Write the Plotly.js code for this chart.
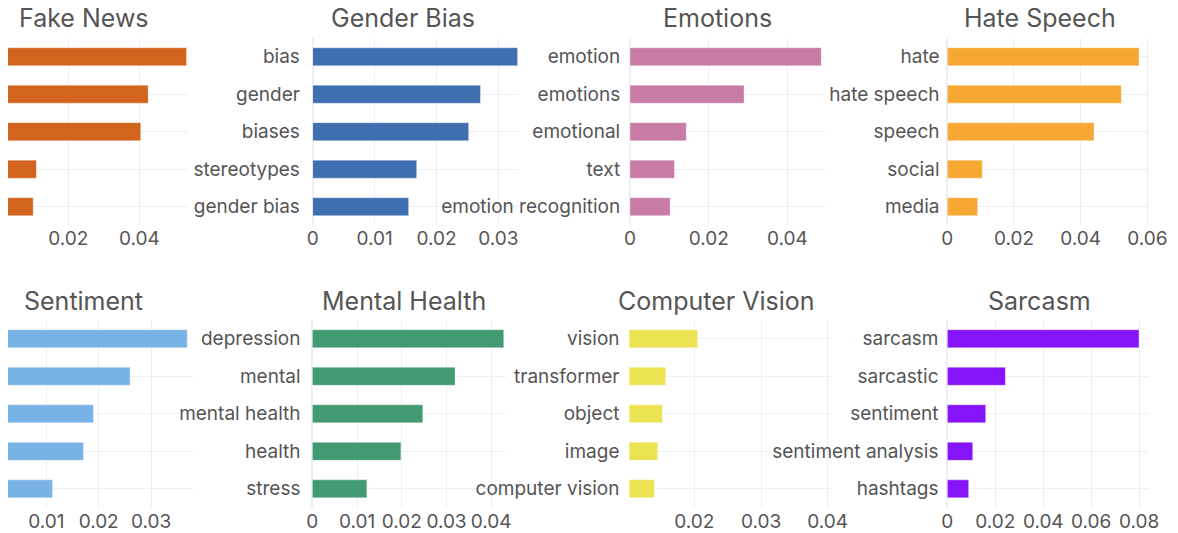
<!DOCTYPE html>
<html>
<head>
<meta charset="utf-8">
<script src="https://cdn.plot.ly/plotly-3.0.1.min.js"></script>
<style>html,body{margin:0;padding:0;background:#fff;}#chart{width:1178px;height:533px;}</style>
</head>
<body>
<div id="chart"></div>
<script>
// ---- data (top to bottom within each panel) ----
const titles = ["Fake News", "Gender Bias", "Emotions", "Hate Speech",
                "Sentiment", "Mental Health", "Computer Vision", "Sarcasm"];

const fakeNewsWords = ["fake", "news", "fake news", "detection", "misinformation"]; // not visible in the reference
const fakeNewsScores = [0.0533, 0.0425, 0.0404, 0.0110, 0.0101];

const genderBiasWords = ["bias", "gender", "biases", "stereotypes", "gender bias"];
const genderBiasScores = [0.0331, 0.0271, 0.0252, 0.0168, 0.0155];

const emotionsWords = ["emotion", "emotions", "emotional", "text", "emotion recognition"];
const emotionsScores = [0.0486, 0.0290, 0.0143, 0.0113, 0.0102];

const hateSpeechWords = ["hate", "hate speech", "speech", "social", "media"];
const hateSpeechScores = [0.0575, 0.0522, 0.0440, 0.0105, 0.0091];

const sentimentWords = ["sentiment", "analysis", "sentiment analysis", "reviews", "opinion"]; // not visible in the reference
const sentimentScores = [0.0369, 0.0260, 0.0190, 0.0171, 0.0112];

const mentalHealthWords = ["depression", "mental", "mental health", "health", "stress"];
const mentalHealthScores = [0.0428, 0.0319, 0.0247, 0.0198, 0.0122];

const computerVisionWords = ["vision", "transformer", "object", "image", "computer vision"];
const computerVisionScores = [0.0205, 0.0157, 0.0152, 0.0145, 0.0140];

const sarcasmWords = ["sarcasm", "sarcastic", "sentiment", "sentiment analysis", "hashtags"];
const sarcasmScores = [0.0799, 0.0242, 0.0160, 0.0106, 0.0089];

const panelWords = [fakeNewsWords, genderBiasWords, emotionsWords, hateSpeechWords,
                    sentimentWords, mentalHealthWords, computerVisionWords, sarcasmWords];
const panelScores = [fakeNewsScores, genderBiasScores, emotionsScores, hateSpeechScores,
                     sentimentScores, mentalHealthScores, computerVisionScores, sarcasmScores];

// ---- styling / layout ----
const colors = ["#D2641E", "#3F6FB0", "#C87BA5", "#F7A833",
                "#78B3E6", "#429A72", "#ECE353", "#8614FA"];
const W = 1178, H = 533;
const FONT = "Inter, Open Sans, sans-serif";
const TXT = "#555555";
const GRID = "#EBF0F8";

// pixel boxes [left, right] and row [top, bottom]
const xpx = [[8, 189], [312.7, 518], [630, 825], [947.3, 1149],
             [8, 193], [312.3, 506], [629.3, 831.7], [947.3, 1149.3]];
const rows = [[38, 225.4], [320, 507.6]];
const xr = [[0.0030, 0.0540], [0, 0.03317], [0, 0.04956], [0, 0.0605],
            [0.0027, 0.0380], [0, 0.0433], [0.01024, 0.0406], [0, 0.0842]];
const dticks = [0.02, 0.01, 0.02, 0.02, 0.01, 0.01, 0.01, 0.02];
const showY = [false, true, true, true, false, true, true, true];
const ylen = [0, 8, 5, 3, 0, 7, 5, 4];
const titleX = [84, 403, 717, 1040, 83, 403.5, 716.3, 1039.5];
const titleY = [18, 301];

const data = [];
const layout = {
  width: W, height: H,
  margin: {l: 0, r: 0, t: 0, b: 0, pad: 0},
  paper_bgcolor: "#fff", plot_bgcolor: "#fff",
  showlegend: false,
  bargap: 0.52,
  font: {family: FONT, color: TXT, size: 19},
  annotations: []
};

for (let i = 0; i < 8; i++) {
  const s = i === 0 ? "" : String(i + 1);
  const row = i < 4 ? 0 : 1;
  data.push({
    type: "bar",
    orientation: "h",
    x: panelScores[i],
    y: panelWords[i],
    xaxis: "x" + s,
    yaxis: "y" + s,
    marker: {color: colors[i], line: {color: "rgba(255,255,255,0.35)", width: 1}},
    hoverinfo: "x+y"
  });
  layout["xaxis" + s] = {
    domain: [xpx[i][0] / W, xpx[i][1] / W],
    anchor: "y" + s,
    range: xr[i],
    tick0: 0, dtick: dticks[i],
    showgrid: true, gridcolor: GRID, gridwidth: 1,
    zeroline: true, zerolinecolor: GRID, zerolinewidth: 2,
    showline: false, ticks: "",
    tickfont: {family: FONT, color: TXT, size: 19}
  };
  layout["yaxis" + s] = {
    domain: [1 - rows[row][1] / H, 1 - rows[row][0] / H],
    anchor: "x" + s,
    type: "category",
    autorange: "reversed",
    showgrid: true, gridcolor: GRID, gridwidth: 1,
    zeroline: false, showline: false,
    showticklabels: showY[i],
    ticks: "outside", ticklen: ylen[i], tickcolor: "rgba(0,0,0,0)",
    tickfont: {family: FONT, color: TXT, size: 19}
  };
  layout.annotations.push({
    text: titles[i],
    xref: "paper", yref: "paper",
    x: titleX[i] / W, y: 1 - titleY[row] / H,
    xanchor: "center", yanchor: "middle",
    showarrow: false,
    font: {family: FONT, color: TXT, size: 25}
  });
}

Plotly.newPlot("chart", data, layout, {displayModeBar: false, staticPlot: true});
</script>
</body>
</html>
